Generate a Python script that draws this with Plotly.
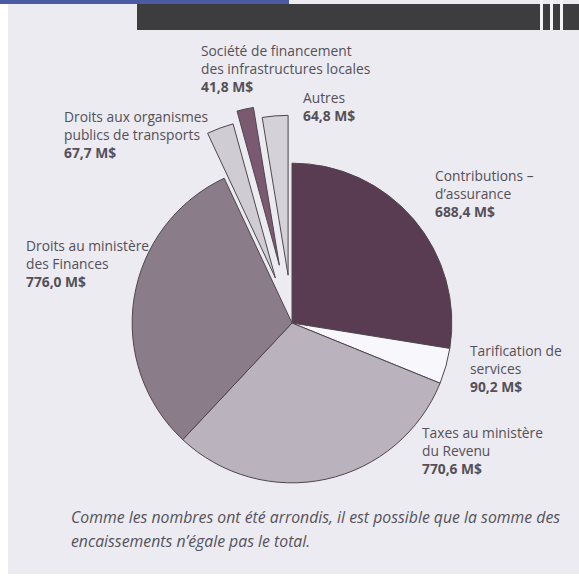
import plotly.graph_objects as go

# Encaissements par source (M$)
labels = [
    "Contributions –<br>d’assurance",
    "Tarification de<br>services",
    "Taxes au ministère<br>du Revenu",
    "Droits au ministère<br>des Finances",
    "Droits aux organismes<br>publics de transports",
    "Société de financement<br>des infrastructures locales",
    "Autres",
]
values = [688.4, 90.2, 770.6, 776.0, 67.7, 41.8, 64.8]
colors = ["#5a3c52", "#f8f7fb", "#bab3be", "#8a7c89", "#d0ccd4", "#7b5a71", "#d4d1d9"]
pulls = [0, 0, 0, 0, 0.30, 0.37, 0.30]

note_lines = [
    "Comme les nombres ont été arrondis, il est possible que la somme des",
    "encaissements n’égale pas le total.",
]

# Label block anchors (top-left corner, pixels)
label_pos = [(433, 164), (468, 339), (420, 421), (24, 234), (62, 105), (199, 39), (301, 86)]

W = H = 579


def px(x):
    return x / W


def py(y):
    return 1 - y / H


fig = go.Figure(
    go.Pie(
        labels=labels,
        values=values,
        sort=False,
        direction="clockwise",
        rotation=0,
        pull=pulls,
        marker=dict(colors=colors, line=dict(color="#4e464d", width=1)),
        textinfo="none",
        hoverinfo="label+value",
        showlegend=False,
        domain=dict(x=[px(73), px(511)], y=[py(542), py(104)]),
    )
)


def fmt(v):
    return f"{v:.1f}".replace(".", ",") + " M$"


annotations = []
for lab, val, (x, y) in zip(labels, values, label_pos):
    annotations.append(
        dict(
            x=px(x), y=py(y), xref="paper", yref="paper",
            xanchor="left", yanchor="top", align="left", showarrow=False,
            text=f"{lab}<br><b>{fmt(val)}</b>",
            font=dict(family="Open Sans", size=13.8, color="#545058"),
        )
    )

for i, line in enumerate(note_lines):
    annotations.append(
        dict(
            x=px(69), y=py(517 + 24 * i), xref="paper", yref="paper",
            xanchor="left", yanchor="middle", align="left", showarrow=False,
            text=f"<i>{line}</i>",
            font=dict(family="Open Sans", size=15.8, color="#55525a"),
        )
    )

shapes = [
    # page background
    dict(type="rect", xref="paper", yref="paper", x0=px(8), x1=1, y0=py(574), y1=1,
         fillcolor="#ecebf1", line_width=0, layer="below"),
    # header bands
    dict(type="rect", xref="paper", yref="paper", x0=0, x1=px(289), y0=py(4), y1=1,
         fillcolor="#4b5ba3", line_width=0, layer="below"),
    dict(type="rect", xref="paper", yref="paper", x0=px(137), x1=1, y0=py(30), y1=py(4),
         fillcolor="#3d3d3f", line_width=0, layer="below"),
]
for sx in (540, 550, 560):
    shapes.append(dict(type="rect", xref="paper", yref="paper", x0=px(sx), x1=px(sx + 3),
                       y0=py(30), y1=py(0), fillcolor="#f4f4f6", line_width=0, layer="below"))

fig.update_layout(
    width=W, height=H,
    margin=dict(l=0, r=0, t=0, b=0),
    paper_bgcolor="#ffffff",
    annotations=annotations,
    shapes=shapes,
)

fig.write_html("out.html")
